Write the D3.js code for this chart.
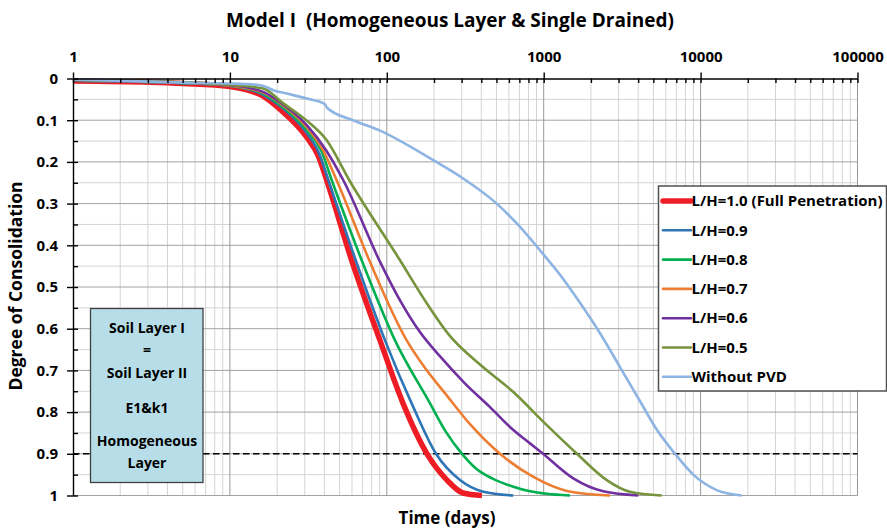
<!DOCTYPE html>
<html>
<head>
<meta charset="utf-8">
<script src="https://cdn.jsdelivr.net/npm/d3@7"></script>
<style>
  body { margin: 0; background: #fff; }
  svg { display: block; }
  text { font-family: "Open Sans", "DejaVu Sans", sans-serif; font-weight: bold; fill: #000; white-space: pre; }
</style>
</head>
<body>
<svg id="chart" width="887" height="529"></svg>
<script>
// ---- data: time (days) and degree of consolidation for each PVD length ratio ----
const seriesNames = [
  "L/H=1.0 (Full Penetration)", "L/H=0.9", "L/H=0.8", "L/H=0.7",
  "L/H=0.6", "L/H=0.5", "Without PVD"
];

const timeLH10 = [1, 3.1, 5, 10, 13, 16.3, 20.9, 30.9, 36.4, 41.4, 59.7, 90.5, 126.9, 180.4, 242, 306, 404];
const degLH10  = [0.006, 0.009, 0.012, 0.019, 0.028, 0.042, 0.074, 0.141, 0.184, 0.244, 0.436, 0.628, 0.779, 0.900, 0.963, 0.994, 1.0];

const timeLH09 = [1, 5, 10, 16.3, 20.9, 30.9, 37.0, 42.4, 63.4, 97.4, 147.5, 205.9, 292.8, 412.2, 640];
const degLH09  = [0.005, 0.011, 0.018, 0.039, 0.066, 0.131, 0.179, 0.244, 0.436, 0.628, 0.788, 0.900, 0.963, 0.991, 1.0];

const timeLH08 = [1, 5, 10, 16.3, 20.9, 30.9, 38.1, 44.6, 69.2, 112.8, 188.5, 238.7, 301.6, 375, 469, 640.3, 817.7, 1045, 1471];
const degLH08  = [0.005, 0.011, 0.017, 0.036, 0.063, 0.124, 0.172, 0.244, 0.436, 0.628, 0.779, 0.848, 0.900, 0.937, 0.959, 0.979, 0.990, 0.996, 1.0];

const timeLH07 = [1, 5, 10, 16.3, 20.9, 30.9, 39.2, 47.9, 77.3, 133.9, 175.8, 235.3, 339.1, 526.6, 854.5, 1408, 2647];
const degLH07  = [0.005, 0.010, 0.017, 0.034, 0.059, 0.117, 0.172, 0.244, 0.436, 0.628, 0.695, 0.755, 0.829, 0.900, 0.955, 0.989, 1.0];

const timeLH06 = [1, 5, 10, 16.3, 20.9, 30.9, 41.0, 52.8, 89.6, 121.4, 162.6, 217.9, 314.4, 454.8, 640.3, 817.7, 990, 1544, 2398, 4009];
const degLH06  = [0.005, 0.010, 0.016, 0.032, 0.057, 0.112, 0.172, 0.244, 0.436, 0.532, 0.608, 0.666, 0.731, 0.788, 0.843, 0.875, 0.900, 0.959, 0.990, 1.0];

const timeLH05 = [1, 5, 10, 16.3, 21.8, 30.9, 41.4, 57.7, 121.4, 174.8, 250.7, 392.6, 640.3, 1019, 1630, 2521, 3548, 5651];
const degLH05  = [0.004, 0.009, 0.015, 0.024, 0.059, 0.101, 0.148, 0.244, 0.436, 0.532, 0.616, 0.686, 0.752, 0.827, 0.900, 0.963, 0.991, 1.0];

const timeNoPVD = [1, 5, 10, 15.6, 17.2, 18.9, 23.0, 32.4, 39.2, 40.4, 41.6, 60.9, 90.5, 197.9, 307.3, 501.7, 706.3, 947, 1267, 1661, 2285, 3064, 4111, 5275, 6868, 8985, 12665, 18280];
const degNoPVD  = [0.002, 0.010, 0.012, 0.016, 0.021, 0.028, 0.036, 0.050, 0.059, 0.062, 0.070, 0.100, 0.125, 0.196, 0.240, 0.300, 0.356, 0.412, 0.470, 0.532, 0.611, 0.692, 0.774, 0.843, 0.900, 0.950, 0.987, 1.0];

const xTickValues = [1, 10, 100, 1000, 10000, 100000];
const xTickLabels = ["1", "10", "100", "1000", "10000", "100000"];
const yTickValues = [0, 0.1, 0.2, 0.3, 0.4, 0.5, 0.6, 0.7, 0.8, 0.9, 1];
const yTickLabels = ["0", "0.1", "0.2", "0.3", "0.4", "0.5", "0.6", "0.7", "0.8", "0.9", "1"];
const targetDegree = 0.9;
const noteLines = ["Soil Layer I", "=", "Soil Layer II", "E1&k1", "Homogeneous", "Layer"];

// ---- styling ----
const seriesColors = ["#ee1c25", "#2e75b6", "#00b050", "#ed7d31", "#7030a0", "#77933c", "#8db4e2"];
const seriesStroke = [5.5, 2.6, 2.6, 2.6, 2.6, 2.6, 2.6];

const timeSets = [timeLH10, timeLH09, timeLH08, timeLH07, timeLH06, timeLH05, timeNoPVD];
const degSets  = [degLH10, degLH09, degLH08, degLH07, degLH06, degLH05, degNoPVD];
const series = seriesNames.map((name, i) => ({
  name, color: seriesColors[i], width: seriesStroke[i],
  points: timeSets[i].map((t, j) => [t, degSets[i][j]])
}));

const svg = d3.select("#chart");
const plotLeft = 73, plotRight = 857.5, plotTop = 78.5, plotBottom = 495.5;
const x = d3.scaleLog().domain([1, 100000]).range([plotLeft, plotRight]);
const y = d3.scaleLinear().domain([0, 1]).range([plotTop, plotBottom]);

// ---- gridlines ----
const minorX = [];
for (let k = 0; k < 5; k++) for (let m = 2; m <= 9; m++) minorX.push(m * Math.pow(10, k));
const grid = svg.append("g");
grid.selectAll(".vminor").data(minorX).join("line")
  .attr("x1", d => x(d)).attr("x2", d => x(d)).attr("y1", plotTop).attr("y2", plotBottom)
  .attr("stroke", "#d4d4d4").attr("stroke-width", 1);
const yMinor = d3.range(1, 20, 2).map(i => i / 20);
grid.selectAll(".hminor").data(yMinor).join("line")
  .attr("x1", plotLeft).attr("x2", plotRight).attr("y1", d => y(d)).attr("y2", d => y(d))
  .attr("stroke", "#d4d4d4").attr("stroke-width", 1);
grid.selectAll(".hmajor").data(yTickValues.slice(1)).join("line")
  .attr("x1", plotLeft).attr("x2", plotRight).attr("y1", d => y(d)).attr("y2", d => y(d))
  .attr("stroke", "#a2a2a2").attr("stroke-width", 1);
grid.selectAll(".vmajor").data(xTickValues.slice(1)).join("line")
  .attr("x1", d => x(d)).attr("x2", d => x(d)).attr("y1", plotTop).attr("y2", plotBottom)
  .attr("stroke", "#999").attr("stroke-width", 1);

// ---- 90% consolidation reference ----
svg.append("line")
  .attr("x1", plotLeft).attr("x2", plotRight).attr("y1", y(targetDegree)).attr("y2", y(targetDegree))
  .attr("stroke", "#000").attr("stroke-width", 1.5).attr("stroke-dasharray", "6.5,3.5");

// ---- curves ----
const line = d3.line().x(d => x(d[0])).y(d => y(d[1])).curve(d3.curveMonotoneX);
svg.append("g").selectAll("path").data(series).join("path")
  .attr("d", d => line(d.points))
  .attr("fill", "none").attr("stroke", d => d.color).attr("stroke-width", d => d.width)
  .attr("stroke-linejoin", "round");

// ---- axes ----
svg.append("g").attr("transform", `translate(0,${plotTop})`)
  .call(d3.axisTop(x).tickValues(xTickValues).tickFormat((d, i) => xTickLabels[i])
    .tickSizeInner(6).tickSizeOuter(0).tickPadding(11));
svg.append("g").attr("transform", `translate(0,${plotTop})`)
  .call(d3.axisBottom(x).tickValues(xTickValues.concat(minorX)).tickFormat("").tickSize(4.5))
  .select(".domain").remove();
svg.append("g").attr("transform", `translate(${plotLeft},0)`)
  .call(d3.axisLeft(y).tickValues(yTickValues).tickFormat((d, i) => yTickLabels[i])
    .tickSizeInner(6).tickSizeOuter(0).tickPadding(9));
svg.append("g").attr("transform", `translate(${plotLeft},0)`)
  .call(d3.axisRight(y).tickValues(d3.range(0, 21).map(i => i / 20)).tickFormat("").tickSize(5))
  .select(".domain").remove();
svg.selectAll(".domain, .tick line").attr("stroke", "#000").attr("stroke-width", 1.4);
svg.selectAll(".tick text").style("font-size", "15px").style("font-family", "'Open Sans', sans-serif")
  .style("font-weight", "bold").attr("fill", "#000");

// ---- titles ----
svg.append("text").attr("x", 450).attr("y", 27).attr("text-anchor", "middle")
  .style("font-size", "19px").text("Model I  (Homogeneous Layer & Single Drained)");
svg.append("text").attr("x", 447).attr("y", 524).attr("text-anchor", "middle")
  .style("font-size", "17px").text("Time (days)");
svg.append("text").attr("transform", "translate(22,286) rotate(-90)").attr("text-anchor", "middle")
  .style("font-size", "17.5px").text("Degree of Consolidation");

// ---- soil description box ----
svg.append("rect").attr("x", 90.5).attr("y", 308.5).attr("width", 112.5).attr("height", 174)
  .attr("fill", "#b7dee8").attr("stroke", "#404040").attr("stroke-width", 1.3);
const noteY = [328, 350, 373, 408, 441.5, 463.5];
svg.append("g").selectAll("text").data(noteLines).join("text")
  .attr("x", 147).attr("y", (d, i) => noteY[i]).attr("dy", "0.35em").attr("text-anchor", "middle")
  .style("font-size", "14px").text(d => d);

// ---- legend ----
const legend = svg.append("g");
legend.append("rect").attr("x", 658.5).attr("y", 186).attr("width", 228).attr("height", 205)
  .attr("fill", "#fff").attr("stroke", "#505050").attr("stroke-width", 1.5);
const rows = legend.selectAll("g.row").data(series).join("g")
  .attr("transform", (d, i) => `translate(0,${201 + i * 29.3})`);
rows.append("line").attr("x1", 663).attr("x2", 691).attr("y1", 0).attr("y2", 0)
  .attr("stroke", d => d.color).attr("stroke-width", d => d.width).attr("stroke-linecap", "round");
rows.append("text").attr("x", 691.5).attr("dy", "0.35em")
  .style("font-size", "15px").text(d => d.name);
</script>
</body>
</html>
